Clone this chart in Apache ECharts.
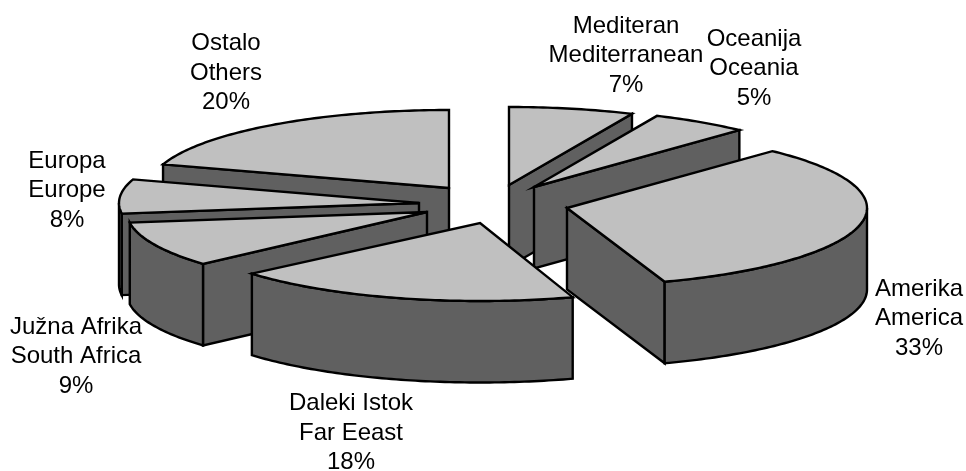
<!DOCTYPE html>
<html>
<head>
<meta charset="utf-8">
<style>html,body{margin:0;padding:0;background:#fff}#c{width:966px;height:471px}</style>
<script src="https://cdn.jsdelivr.net/npm/echarts@6/dist/echarts.min.js"></script>
</head>
<body>
<div id="c"></div>
<script>
const localNames = ['Mediteran','Oceanija','Amerika','Daleki Istok','Južna Afrika','Europa','Ostalo'];
const englishNames = ['Mediterranean','Oceania','America','Far Eeast','South Africa','Europe','Others'];
const shares = [7,5,33,18,9,8,20];

// layout only (not data): apex of each exploded slice, label centre, paint rank,
// and the small angular skew (degrees) the reference's 3D projection adds at each slice's two edges
const apexX = [509,534,567,480,427,419,449];
const apexY = [185,187,208,223,212,203,188];
const labelX = [626,754,919,351,76,67,226];
const labelY = [55.5,68.5,318.5,433,356.5,190.5,73];
const paintRank = [1,2,5,6,4,3,0];
const skewStart = [0,-1,0,0,1.5,3,-0.4];
const skewEnd = [-1,0,-1,2.7,3,-0.4,0];
const RX = 300, RY = 78, DEPTH = 81.5;

const total = shares.reduce((a,b)=>a+b,0);
const boundary = [0];
shares.forEach((v,i)=>boundary.push(boundary[i]+v/total*360));
const rad = d => d*Math.PI/180;

const chart = echarts.init(document.getElementById('c'),null,{renderer:'canvas'});
const stroke = {stroke:'#000',lineWidth:2.4,lineJoin:'miter',miterLimit:10};
const TOP='#c0c0c0', SIDE='#606060';

function renderItem(params, api){
  const i = params.dataIndex;
  const a0 = rad(boundary[i]+skewStart[i]), a1 = rad(boundary[i+1]+skewEnd[i]);
  const cx = apexX[i], cy = apexY[i];
  const P = a => [cx+RX*Math.sin(a), cy-RY*Math.cos(a)];
  const down = p => [p[0], p[1]+DEPTH];
  const z = paintRank[i]*10;
  const kids = [];
  const poly = (pts,fill,off) => kids.push({type:'polygon',z2:z+off,shape:{points:pts},style:Object.assign({fill},stroke)});

  [[a0,a0-Math.PI/2],[a1,a1+Math.PI/2]].forEach(([a,n])=>{
    if(Math.cos(n)<-1e-6){
      const p=P(a);
      poly([[cx,cy],p,down(p),down([cx,cy])],SIDE,1);
    }
  });
  const w0=Math.max(a0,Math.PI/2), w1=Math.min(a1,Math.PI*1.5);
  if(w1>w0){
    const arc=[];
    const n=Math.max(4,Math.ceil((w1-w0)*60));
    for(let k=0;k<=n;k++) arc.push(P(w0+(w1-w0)*k/n));
    poly(arc.concat(arc.slice().reverse().map(down)),SIDE,2);
  }
  const top=[[cx,cy]];
  const n=Math.max(4,Math.ceil((a1-a0)*60));
  for(let k=0;k<=n;k++) top.push(P(a0+(a1-a0)*k/n));
  poly(top,TOP,3);
  kids.push({type:'text',z2:100,style:{
    text:localNames[i]+'\n'+englishNames[i]+'\n'+api.value(0)+'%',
    x:labelX[i],y:labelY[i],align:'center',verticalAlign:'middle',
    font:'24px "Liberation Sans", Arial, sans-serif',lineHeight:29.5,fill:'#000'
  }});
  return {type:'group',children:kids};
}

chart.setOption({
  backgroundColor:'#fff',
  animation:false,
  series:[{
    type:'custom',
    coordinateSystem:'none',
    renderItem,
    data:shares.map((v,i)=>({name:englishNames[i],value:[v]}))
  }]
});
</script>
</body>
</html>
